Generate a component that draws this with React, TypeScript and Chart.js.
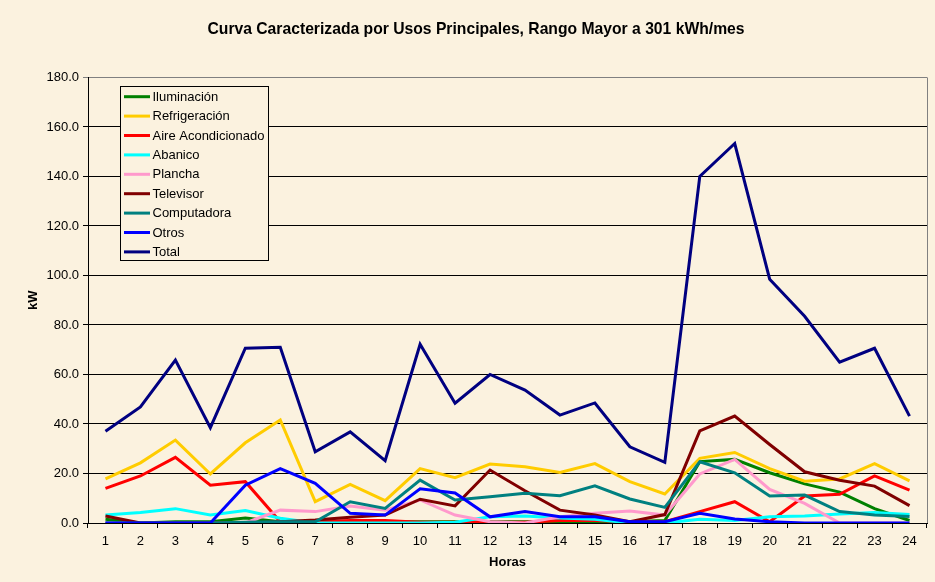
import React, { useEffect, useRef } from "react";
import { Chart, registerables } from "chart.js";

Chart.register(...registerables);

// ---------- data ----------
const hours = ["1","2","3","4","5","6","7","8","9","10","11","12","13","14","15","16","17","18","19","20","21","22","23","24"];

const iluminacion = [1.5, 0, 0.5, 0.5, 2, 0.5, 0.5, 0.5, 0.5, 0.5, 0.5, 0.5, 0.5, 0.5, 0.5, 0.5, 1, 24.8, 25.7, 20.3, 15.8, 12.5, 5.8, 1];
const refrigeracion = [17.8, 24.3, 33.5, 19.8, 32.4, 41.6, 8.6, 15.6, 9, 22, 18.3, 23.8, 22.7, 20.4, 24, 16.7, 11.7, 26.1, 28.5, 22, 16.9, 17.8, 24, 17];
const aireAcondicionado = [14, 19, 26.5, 15.3, 16.7, 0.5, 0.5, 1, 1, 0.3, 0.3, 0.3, 0.3, 1, 1, 0.5, 0.5, 4.6, 8.6, 0.5, 10.9, 11.6, 19, 13.3];
const abanico = [3.2, 4.2, 5.8, 3.2, 5, 1.9, 0, 0, 0, 0, 0.3, 2.5, 2.8, 2, 1.5, 0, 0, 1.5, 1, 2.5, 2.8, 3.6, 4.2, 3.4];
const plancha = [0, 0, 0, 0, 0, 5.2, 4.6, 6.9, 5.2, 9.3, 3.2, 0.5, 0, 2.5, 3.9, 4.8, 3.2, 19.8, 25.7, 13.6, 7.9, 0, 0, 0];
const televisor = [2.8, 0, 0, 0, 0, 0.5, 1.2, 2.3, 3.2, 9.6, 6.9, 21.4, 13, 5.2, 3.2, 0.5, 3.4, 37.2, 43.2, 31.7, 20.7, 17.3, 14.9, 7];
const computadora = [0, 0, 0, 0, 0.3, 0.5, 0.5, 8.6, 5.9, 17.3, 9.3, 10.6, 12, 11, 15, 9.7, 6.3, 24.7, 20.3, 10.9, 11.3, 4.6, 3.2, 2.6];
const otros = [0, 0, 0, 0, 15.3, 22, 16, 3.9, 3.2, 13.8, 12.1, 2.5, 4.6, 2.5, 2.5, 0.5, 0.5, 3.9, 1.6, 0.5, 0, 0, 0, 0];
const total = [37.1, 46.9, 65.8, 38.5, 70.6, 71, 28.8, 36.8, 25.2, 72.2, 48.4, 60, 53.7, 43.6, 48.5, 30.8, 24.5, 140, 153.3, 98.5, 83.5, 65, 70.6, 43.2];

const seriesLabels = ["Iluminación", "Refrigeración", "Aire Acondicionado", "Abanico", "Plancha", "Televisor", "Computadora", "Otros", "Total"];
const seriesValues = [iluminacion, refrigeracion, aireAcondicionado, abanico, plancha, televisor, computadora, otros, total];
const seriesColors = ["#008000", "#FFCC00", "#FF0000", "#00FFFF", "#FF99CC", "#800000", "#008080", "#0000FF", "#000080"];

const chartTitle = "Curva Caracterizada por Usos Principales, Rango Mayor a 301 kWh/mes";
const xTitle = "Horas";
const yTitle = "kW";

// ---------- styles ----------
const FONT = "'Liberation Sans', Arial, Helvetica, sans-serif";
const BG = "#FBF2DF";

export default function App() {
  const ref = useRef<HTMLCanvasElement>(null);

  useEffect(() => {
    if (!ref.current) return;

    const bgPlugin = {
      id: "bgFill",
      beforeDraw(chart: any) {
        const c = chart.ctx;
        c.save();
        c.fillStyle = BG;
        c.fillRect(0, 0, chart.width, chart.height);
        c.restore();
      },
    };

    const framePlugin = {
      id: "frame",
      beforeDatasetsDraw(chart: any) {
        const { ctx, chartArea: a } = chart;
        ctx.save();
        ctx.strokeStyle = "#808080";
        ctx.lineWidth = 1;
        const x = Math.round(a.right) + 0.5;
        ctx.beginPath();
        ctx.moveTo(x, a.top);
        ctx.lineTo(x, a.bottom);
        ctx.stroke();
        ctx.restore();
      },
    };

    const legendPlugin = {
      id: "boxLegend",
      afterDraw(chart: any) {
        const { ctx, chartArea: a } = chart;
        const x0 = Math.round(a.left + 32) + 0.5;
        const y0 = Math.round(a.top + 9) + 0.5;
        const w = 148;
        const h = 174;
        ctx.save();
        ctx.fillStyle = BG;
        ctx.fillRect(x0, y0, w, h);
        ctx.strokeStyle = "#000";
        ctx.lineWidth = 1;
        ctx.strokeRect(x0, y0, w, h);
        ctx.font = `13px ${FONT}`;
        ctx.textBaseline = "middle";
        ctx.textAlign = "left";
        chart.data.datasets.forEach((ds: any, i: number) => {
          const y = y0 + 10.2 + i * 19.4;
          ctx.strokeStyle = ds.borderColor;
          ctx.lineWidth = 3;
          ctx.beginPath();
          ctx.moveTo(x0 + 3.5, y);
          ctx.lineTo(x0 + 29.5, y);
          ctx.stroke();
          ctx.fillStyle = "#000";
          ctx.fillText(ds.label, x0 + 32, y + 0.5);
        });
        ctx.restore();
      },
    };

    const datasets = seriesLabels.map((label, i) => ({
      label,
      data: seriesValues[i],
      borderColor: seriesColors[i],
      backgroundColor: seriesColors[i],
      borderWidth: 3,
      pointRadius: 0,
      pointHoverRadius: 0,
      tension: 0,
      fill: false,
      order: seriesLabels.length - 1 - i,
    }));

    const tickFont = { family: FONT, size: 13 };
    const boldFont = { family: FONT, size: 13, weight: "bold" as const };

    const chart = new Chart(ref.current, {
      type: "line",
      data: { labels: hours, datasets },
      options: {
        responsive: false,
        animation: false,
        events: [],
        layout: { padding: { left: 25, right: 8, top: 0, bottom: 0 } },
        plugins: {
          legend: { display: false },
          tooltip: { enabled: false },
          title: {
            display: true,
            text: chartTitle,
            color: "#000",
            font: { family: FONT, size: 15.7, weight: "bold" as const },
            padding: { top: 20, bottom: 38.6 },
          },
        },
        scales: {
          x: {
            type: "category",
            offset: true,
            grid: {
              display: true,
              drawOnChartArea: false,
              drawTicks: true,
              tickLength: 5,
              offset: true,
              color: "#000",
            },
            border: { display: true, color: "#000", width: 1 },
            ticks: { font: tickFont, color: "#000", padding: 6, maxRotation: 0, autoSkip: false },
            title: { display: true, text: xTitle, color: "#000", font: boldFont, padding: { top: 0, bottom: 12 } },
            afterFit(scale: any) {
              scale.height = 59;
            },
          },
          y: {
            min: 0,
            max: 180,
            ticks: {
              stepSize: 20,
              font: tickFont,
              color: "#000",
              padding: 4,
              callback: (v: any) => Number(v).toFixed(1),
            },
            grid: {
              color: (c: any) => (c.tick && c.tick.value === 180 ? "#808080" : "#000"),
              tickLength: 5,
              drawTicks: true,
            },
            border: { display: true, color: "#000", width: 1 },
            title: { display: true, text: yTitle, color: "#000", font: boldFont, padding: { top: 1, bottom: 0 } },
            afterFit(scale: any) {
              scale.width = 63;
            },
          },
        },
      },
      plugins: [bgPlugin, framePlugin, legendPlugin],
    });

    return () => chart.destroy();
  }, []);

  return (
    <div style={{ position: "fixed", left: 0, top: 0, width: 935, height: 582, background: BG }}>
      <canvas ref={ref} width={935} height={582} style={{ display: "block", width: 935, height: 582 }} />
    </div>
  );
}
